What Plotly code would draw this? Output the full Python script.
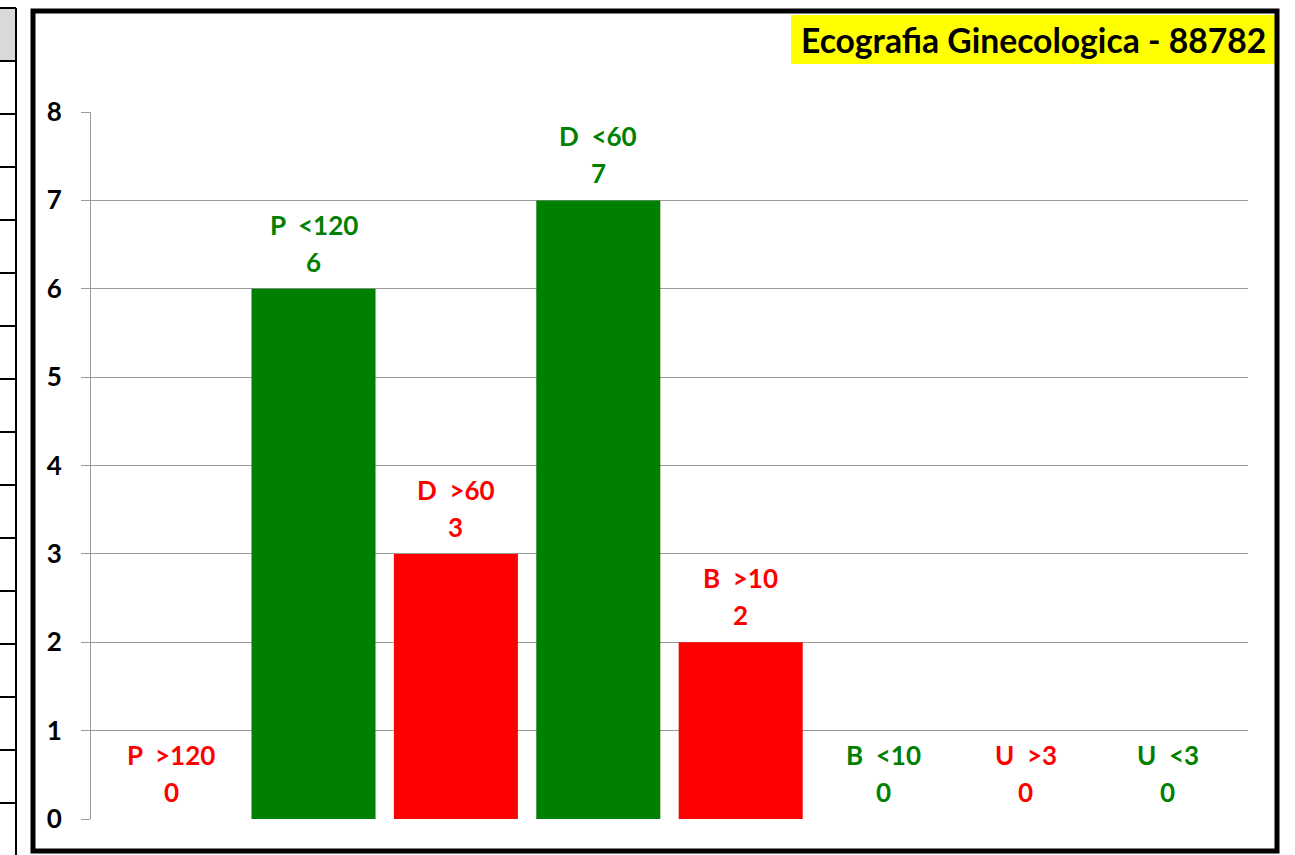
import plotly.graph_objects as go

# ---- data ----
categories = ["P  >120", "P  <120", "D  >60", "D  <60", "B  >10", "B  <10", "U  >3", "U  <3"]
values = [0, 6, 3, 7, 2, 0, 0, 0]
bar_colors = ["#FF0000", "#008000", "#FF0000", "#008000", "#FF0000", "#008000", "#FF0000", "#008000"]
y_ticks = [0, 1, 2, 3, 4, 5, 6, 7, 8]
title_text = "Ecografia Ginecologica - 88782"

W, H = 1295, 855
PL, PR, PT, PB = 91, 1248, 112, 819  # plot area pixels

def px(x):
    return (x - PL) / (PR - PL)

def py(y):
    return (PB - y) / (PB - PT)

FONT = "Lato"

fig = go.Figure()
fig.add_trace(go.Bar(
    x=list(range(len(categories))),
    y=values,
    marker=dict(color=bar_colors, line=dict(width=0)),
    hoverinfo="skip",
))

annotations = []
for i, (c, v, col) in enumerate(zip(categories, values, bar_colors)):
    annotations.append(dict(x=i, y=v, xref="x", yref="y", text=c, showarrow=False,
                            yanchor="middle", yshift=64,
                            font=dict(family=FONT, size=26, color=col, weight="bold")))
    annotations.append(dict(x=i, y=v, xref="x", yref="y", text=str(v), showarrow=False,
                            yanchor="middle", yshift=27,
                            font=dict(family=FONT, size=26, color=col, weight="bold")))

# title
annotations.append(dict(x=px(1268), y=py(40), xref="paper", yref="paper", text=title_text,
                        showarrow=False, xanchor="right", yanchor="middle",
                        font=dict(family=FONT, size=33.7, color="black", weight="bold")))

shapes = []
# yellow title box
shapes.append(dict(type="rect", xref="paper", yref="paper", x0=px(791), x1=px(1275),
                   y0=py(64), y1=py(15), fillcolor="#FFFF00", line=dict(width=0), layer="below"))
# chart frame
shapes.append(dict(type="rect", xref="paper", yref="paper", x0=px(33), x1=px(1277),
                   y0=py(851), y1=py(11), line=dict(color="black", width=5)))
# left spreadsheet fragment
shapes.append(dict(type="rect", xref="paper", yref="paper", x0=px(-2), x1=px(16),
                   y0=py(61), y1=py(8), fillcolor="#D9D9D9", line=dict(width=0), layer="below"))
shapes.append(dict(type="line", xref="paper", yref="paper", x0=px(-2), x1=px(16),
                   y0=py(8), y1=py(8), line=dict(color="black", width=2)))
shapes.append(dict(type="line", xref="paper", yref="paper", x0=px(16), x1=px(16),
                   y0=py(8), y1=py(860), line=dict(color="black", width=2)))
for k in range(15):
    yy = 61 + 53 * k
    shapes.append(dict(type="line", xref="paper", yref="paper", x0=px(-2), x1=px(16),
                       y0=py(yy), y1=py(yy), line=dict(color="black", width=2)))

fig.update_layout(
    width=W, height=H,
    margin=dict(l=PL, r=W - PR, t=PT, b=H - PB, pad=0),
    paper_bgcolor="white", plot_bgcolor="white",
    showlegend=False,
    bargap=0.129,
    annotations=annotations,
    shapes=shapes,
    xaxis=dict(range=[-0.5625, 7.5625], showticklabels=False, showgrid=False,
               zeroline=False, showline=False, ticks="", fixedrange=True),
    yaxis=dict(range=[0, 8], tickvals=y_ticks, showgrid=True, gridcolor="#9A9A9A", gridwidth=1,
               zeroline=False, showline=True, linecolor="#9A9A9A", linewidth=1,
               ticks="outside", ticklen=9, tickcolor="#9A9A9A", ticklabelstandoff=14,
               tickfont=dict(family=FONT, size=26, color="black", weight="bold"),
               fixedrange=True),
)

fig.write_html("out.html", config=dict(displayModeBar=False),
               post_script="document.body.style.margin='0px';document.body.style.overflow='hidden';")
